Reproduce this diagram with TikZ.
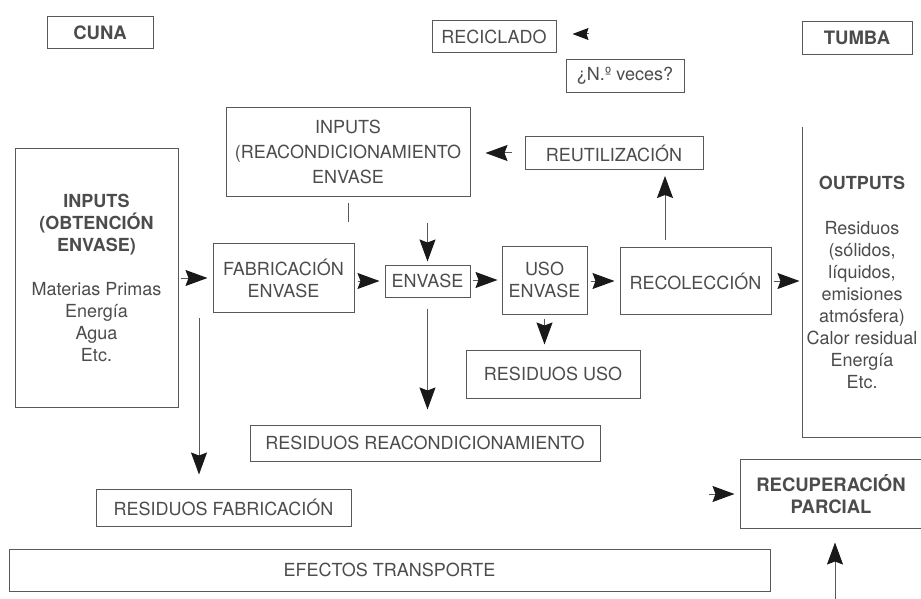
\documentclass[tikz,border=0pt]{standalone}
\usepackage{fontspec}
\setmainfont{TeX Gyre Heros}
\usepackage{tikz}
\usetikzlibrary{%
	arrows.meta,%
	calc
}
\definecolor{linegray}{gray}{0.35}
\definecolor{textgray}{gray}{0.3}
\definecolor{headgray}{gray}{0.1}

\begin{document}
\begin{tikzpicture}[x=1pt, y=-1pt,
		box/.style={draw=linegray, line width=1pt, text=textgray, align=center, inner sep=0pt, font=\fontsize{18}{22}\selectfont},
		bbox/.style={box, font=\fontsize{18.5}{22}\selectfont\bfseries},
		arr/.style={draw=linegray, line width=1pt, -{Stealth[length=22pt,width=16pt,inset=3pt,color=headgray]}},
		sarr/.style={draw=linegray, line width=1pt, -{Stealth[length=16pt,width=12pt,inset=2pt,color=headgray]}}
	]
		\useasboundingbox (0,0) rectangle (921,599);

		% cuna / tumba
		\node[bbox, minimum width=106pt, minimum height=32pt] (cuna) at (100,33) {CUNA};
		\node[bbox, minimum width=110pt, minimum height=33pt] (tumba) at (857,38) {TUMBA};

		% reciclado
		\node[box, minimum width=124pt, minimum height=32pt] (reciclado) at (494,37) {RECICLADO};
		\node[box, minimum width=118pt, minimum height=33pt] (veces) at (625,76) {¿N.º veces?};
		\coordinate (recicfrom) at (589,34);
		\draw[sarr, shorten >=16pt] (recicfrom) -- (recicfrom -| reciclado.east);

		% top row
		\node[box, minimum width=244pt, minimum height=89pt, font=\fontsize{18}{25}\selectfont] (inreac) at (348,152) {INPUTS\\(REACONDICIONAMIENTO\\ENVASE};
		\node[box, minimum width=178pt, minimum height=33pt] (reut) at (614,153) {REUTILIZACIÓN};

		% main row
		\node[box, minimum width=163pt, minimum height=258pt] (inobt) at (96.5,278) {\bfseries INPUTS\\\bfseries(OBTENCIÓN\\\bfseries ENVASE)\\[22pt]Materias Primas\\Energía\\Agua\\Etc.};
		\node[box, minimum width=141pt, minimum height=69pt] (fab) at (283.5,278) {FABRICACIÓN\\ENVASE};
		\node[box, minimum width=85pt, minimum height=32pt] (envase) at (427.5,281) {ENVASE};
		\node[box, minimum width=85pt, minimum height=68pt] (uso) at (544.5,280) {USO\\ENVASE};
		\node[box, minimum width=151pt, minimum height=67pt] (recol) at (695.5,281) {RECOLECCIÓN};
		\node[box, draw=none, minimum width=118pt, minimum height=309pt] (outputs) at (862,282.5) {\bfseries OUTPUTS\\[23pt]Residuos\\(sólidos,\\líquidos,\\emisiones\\atmósfera)\\Calor residual\\Energía\\Etc.};
		\draw[draw=linegray, line width=1pt] (outputs.north west) -- (outputs.south west) -- (outputs.south east);

		% residuos
		\node[box, minimum width=174pt, minimum height=48pt] (resuso) at (553,374) {RESIDUOS USO};
		\node[box, minimum width=350pt, minimum height=36pt] (resreac) at (425,443) {RESIDUOS REACONDICIONAMIENTO};
		\node[box, minimum width=255pt, minimum height=37pt] (resfab) at (223.5,507.5) {RESIDUOS FABRICACIÓN};

		% recuperacion
		\node[bbox, draw=none, minimum width=180pt, minimum height=68pt] (recup) at (831,494) {RECUPERACIÓN\\PARCIAL};
		\draw[draw=linegray, line width=1pt] (recup.north east) -- (recup.north west) -- (recup.south west) -- (recup.south east);

		\node[box, minimum width=761pt, minimum height=42pt] (efectos) at (389.5,570) {EFECTOS TRANSPORTE};

		% flow
		\draw[arr, shorten <=2pt, shorten >=5pt] (inobt) -- (fab);
		\draw[arr, shorten <=3pt, shorten >=5pt] (fab.east |- envase) -- (envase.west);
		\draw[arr, shorten <=2pt, shorten >=4pt] (envase.east |- uso) -- (uso.west);
		\draw[arr, shorten <=3pt, shorten >=5pt] (uso.east |- recol) -- (recol.west);
		\draw[arr, shorten <=2pt, shorten >=3pt] (recol.east) -- (recol.east -| outputs.west);
		\draw[arr, shorten <=7pt, shorten >=6pt] ([xshift=-30.5pt]recol.north) -- ([xshift=-30.5pt]recol.north |- reut.south);
		\draw[arr, shorten <=13pt, shorten >=15pt] (reut.west) -- (reut.west -| inreac.east);
		\draw[arr, shorten <=26pt, shorten >=3pt] (inreac.south -| envase.north) -- (envase.north);
		\draw[draw=linegray, line width=1pt, shorten <=6pt] (inreac.south) -- ++(0,25);
		\draw[arr, shorten <=4pt, shorten >=5pt] (uso.south) -- (uso.south |- resuso.north);
		\draw[arr, shorten <=11pt, shorten >=15pt] (envase.south) -- (envase.south |- resreac.north);

		\coordinate (fabdrop) at (199,318);
		\draw[arr, shorten >=14pt] (fabdrop) -- (fabdrop |- resfab.north);
		\coordinate (recupin) at (709,494);
		\draw[arr, shorten >=6pt] (recupin) -- (recup.west);
		\coordinate (recupfrom) at (835,599);
		\draw[arr, shorten >=14pt] (recupfrom) -- (recupfrom |- recup.south);
	\end{tikzpicture}
\end{document}
